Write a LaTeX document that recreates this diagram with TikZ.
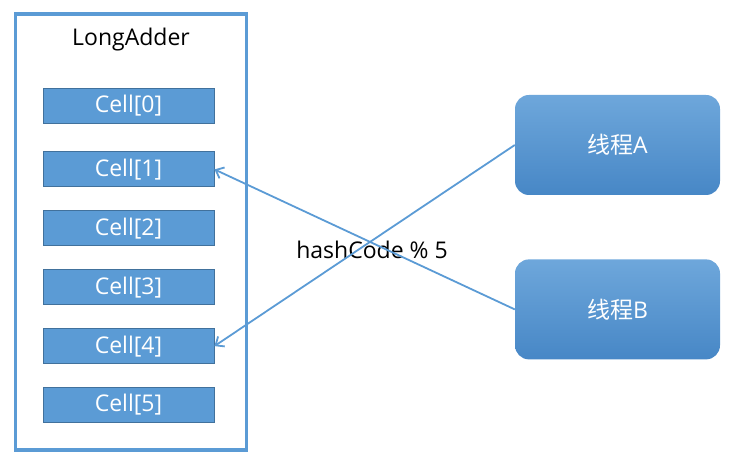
\documentclass[tikz,border=0pt]{standalone}
\usepackage{fontspec}
\setmainfont{Open Sans}
\newfontfamily\cjk{Noto Sans CJK SC}
\usetikzlibrary{positioning,arrows.meta}
\definecolor{cellblue}{HTML}{5B9BD5}
\definecolor{celledge}{HTML}{41719C}
\definecolor{threadtop}{HTML}{6EA7DB}
\definecolor{threadbot}{HTML}{4787C6}

\begin{document}
\begin{tikzpicture}[
    x=1pt, y=-1pt,
    node distance=23pt,
    container/.style={rectangle, draw=cellblue, line width=3.2pt, minimum width=231pt, minimum height=436pt},
    cell/.style={rectangle, draw=celledge, fill=cellblue, line width=0.9pt, minimum width=171pt, minimum height=35pt, inner sep=0pt, text=white},
    thread/.style={rectangle, rounded corners=14pt, top color=threadtop, bottom color=threadbot, minimum width=205pt, minimum height=100pt, text=white},
    arrow/.style={-{Straight Barb[length=7pt,width=12pt]}, cellblue, line width=1.8pt},
    every node/.style={font=\fontsize{23}{27}\selectfont}
]
\useasboundingbox (0,0) rectangle (732,462);
\node[container] (adder) at (131,232) {};
\node (title) at (131,40) {LongAdder};
\node[cell] (cell0) at (128.5,105.5) {Cell[0]};
\node[cell, below=28pt of cell0] (cell1) {Cell[1]};
\node[cell, below=of cell1] (cell2) {Cell[2]};
\node[cell, below=of cell2] (cell3) {Cell[3]};
\node[cell, below=of cell3] (cell4) {Cell[4]};
\node[cell, below=of cell4] (cell5) {Cell[5]};
\node[thread] (threadA) at (617.5,145) {{\cjk 线程}A};
\node[thread, below=64pt of threadA] (threadB) {{\cjk 线程}B};
\node (hash) at (372,250) {hashCode \% 5};
\draw[arrow] (threadA.west) -- (cell4.east);
\draw[arrow] (threadB.west) -- (cell1.east);
\end{tikzpicture}
\end{document}
